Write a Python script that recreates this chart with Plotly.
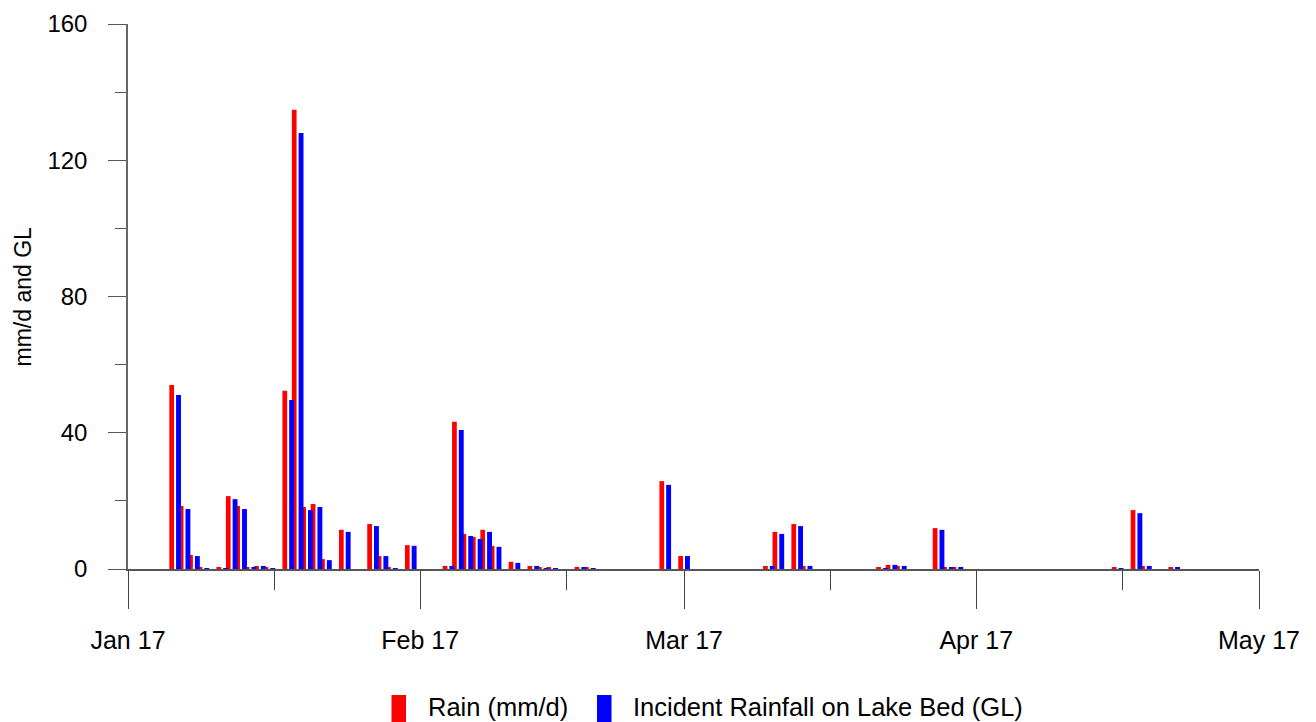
import plotly.graph_objects as go

# ---- data ----
dates = [
    "2017-01-06", "2017-01-07", "2017-01-08", "2017-01-09", "2017-01-11",
    "2017-01-12", "2017-01-13", "2017-01-14", "2017-01-15", "2017-01-16",
    "2017-01-18", "2017-01-19", "2017-01-20", "2017-01-21", "2017-01-22",
    "2017-01-24", "2017-01-27", "2017-01-28", "2017-01-29", "2017-01-31",
    "2017-02-04", "2017-02-05", "2017-02-06", "2017-02-07", "2017-02-08",
    "2017-02-09", "2017-02-11", "2017-02-13", "2017-02-14", "2017-02-15",
    "2017-02-18", "2017-02-19", "2017-02-27", "2017-03-01", "2017-03-10",
    "2017-03-11", "2017-03-13", "2017-03-14", "2017-03-22", "2017-03-23",
    "2017-03-24", "2017-03-28", "2017-03-29", "2017-03-30", "2017-04-16",
    "2017-04-18", "2017-04-19", "2017-04-22",
]
rain_mm = [
    54.0, 18.5, 4.1, 0.3, 0.3,
    21.4, 18.5, 0.6, 0.9, 0.3,
    52.3, 134.8, 18.2, 19.1, 2.9,
    11.5, 13.2, 3.8, 0.3, 7.0,
    0.9, 43.2, 10.3, 9.4, 11.5,
    6.8, 2.1, 0.9, 0.3, 0.3,
    0.6, 0.3, 25.8, 3.8, 0.9,
    10.9, 13.2, 0.9, 0.3, 1.2,
    0.9, 12.0, 0.3, 0.6, 0.3,
    17.3, 0.9, 0.6,
]
incident_gl = [
    51.1, 17.6, 3.8, 0.1, 0.1,
    20.5, 17.6, 0.6, 0.9, 0.1,
    49.6, 128.0, 17.3, 18.2, 2.6,
    10.9, 12.6, 3.8, 0.1, 6.8,
    0.9, 40.8, 9.7, 8.8, 10.9,
    6.5, 1.8, 0.9, 0.1, 0.1,
    0.6, 0.1, 24.7, 3.8, 0.9,
    10.3, 12.6, 0.9, 0.1, 1.2,
    0.9, 11.5, 0.3, 0.6, 0.1,
    16.4, 0.9, 0.6,
]
series_names = ["Rain (mm/d)", "Incident Rainfall on Lake Bed (GL)"]
series_colors = ["#FF0000", "#0000FF"]

x_major = ["2017-01-01", "2017-02-01", "2017-03-01", "2017-04-01", "2017-05-01"]
x_major_labels = ["Jan 17", "Feb 17", "Mar 17", "Apr 17", "May 17"]
x_minor = ["2017-01-16 12:00", "2017-02-16 12:00", "2017-03-16 12:00", "2017-04-16 12:00"]
y_major = [0, 40, 80, 120, 160]
y_minor = [20, 60, 100, 140]

DAY = 86400000
FONT = "Liberation Sans, Arial, sans-serif"
OFF = 8  # page body margin in the browser
W, H = 1316 - OFF, 722 - OFF
ML, MR, MT = 128 - OFF, 57, 24 - OFF
PLOT_BOTTOM = 569 - OFF
MB = H - PLOT_BOTTOM
PW, PH = W - ML - MR, PLOT_BOTTOM - MT

def px_to_paper_x(px):
    return (px - OFF - ML) / PW

def px_to_paper_y(py):
    return (PLOT_BOTTOM - (py - OFF)) / PH

fig = go.Figure()
fig.add_trace(go.Bar(
    x=dates, y=rain_mm, name=series_names[0],
    marker=dict(color=series_colors[0], line=dict(width=0)),
    width=0.5 * DAY, offset=-0.615 * DAY, showlegend=False,
))
fig.add_trace(go.Bar(
    x=dates, y=incident_gl, name=series_names[1],
    marker=dict(color=series_colors[1], line=dict(width=0)),
    width=0.52 * DAY, offset=0.1 * DAY, showlegend=False,
))

# manual legend (rectangles + text)
legend_items = [
    (391.5, 406, 426, series_names[0], series_colors[0]),
    (597, 611.5, 631, series_names[1], series_colors[1]),
]
for x0, x1, tx, name, col in legend_items:
    fig.add_shape(type="rect", xref="paper", yref="paper",
                  x0=px_to_paper_x(x0), x1=px_to_paper_x(x1),
                  y0=px_to_paper_y(722), y1=px_to_paper_y(695),
                  fillcolor=col, line=dict(width=0), layer="above")
    fig.add_annotation(xref="paper", yref="paper",
                       x=px_to_paper_x(tx), y=px_to_paper_y(706.5),
                       xanchor="left", yanchor="middle", showarrow=False,
                       text=name, font=dict(family=FONT, size=25.5, color="black"))

# y axis title
fig.add_annotation(xref="paper", yref="paper",
                   x=px_to_paper_x(22), y=0.5, xanchor="center", yanchor="middle",
                   textangle=-90, showarrow=False, text="mm/d and GL",
                   font=dict(family=FONT, size=23, color="black"))

fig.update_layout(
    width=W, height=H,
    margin=dict(l=ML, r=MR, t=MT, b=MB, autoexpand=False),
    plot_bgcolor="white", paper_bgcolor="white",
    barmode="overlay",
    showlegend=False,
    font=dict(family=FONT, color="black"),
    xaxis=dict(
        type="date", range=["2017-01-01", "2017-05-01"],
        tickmode="array", tickvals=x_major, ticktext=x_major_labels,
        ticks="outside", ticklen=38, tickwidth=1.3, tickcolor="#444",
        showline=True, linecolor="#555", linewidth=2,
        showgrid=False, zeroline=False,
        tickfont=dict(family=FONT, size=25, color="black"),
        ticklabelstandoff=10,
        minor=dict(tickmode="array", tickvals=x_minor, ticks="outside",
                   ticklen=19, tickwidth=1.3, tickcolor="#444", showgrid=False),
    ),
    yaxis=dict(
        range=[0, 160],
        tickmode="array", tickvals=y_major, ticktext=[str(v) for v in y_major],
        ticks="outside", ticklen=18, tickwidth=1.3, tickcolor="#555",
        showline=True, linecolor="#666", linewidth=1.5,
        showgrid=False, zeroline=False,
        tickfont=dict(family=FONT, size=24, color="black"),
        ticklabelstandoff=16,
        minor=dict(tickmode="array", tickvals=y_minor, ticks="outside",
                   ticklen=11, tickwidth=1.3, tickcolor="#555", showgrid=False),
    ),
)

fig.write_html("out.html")
